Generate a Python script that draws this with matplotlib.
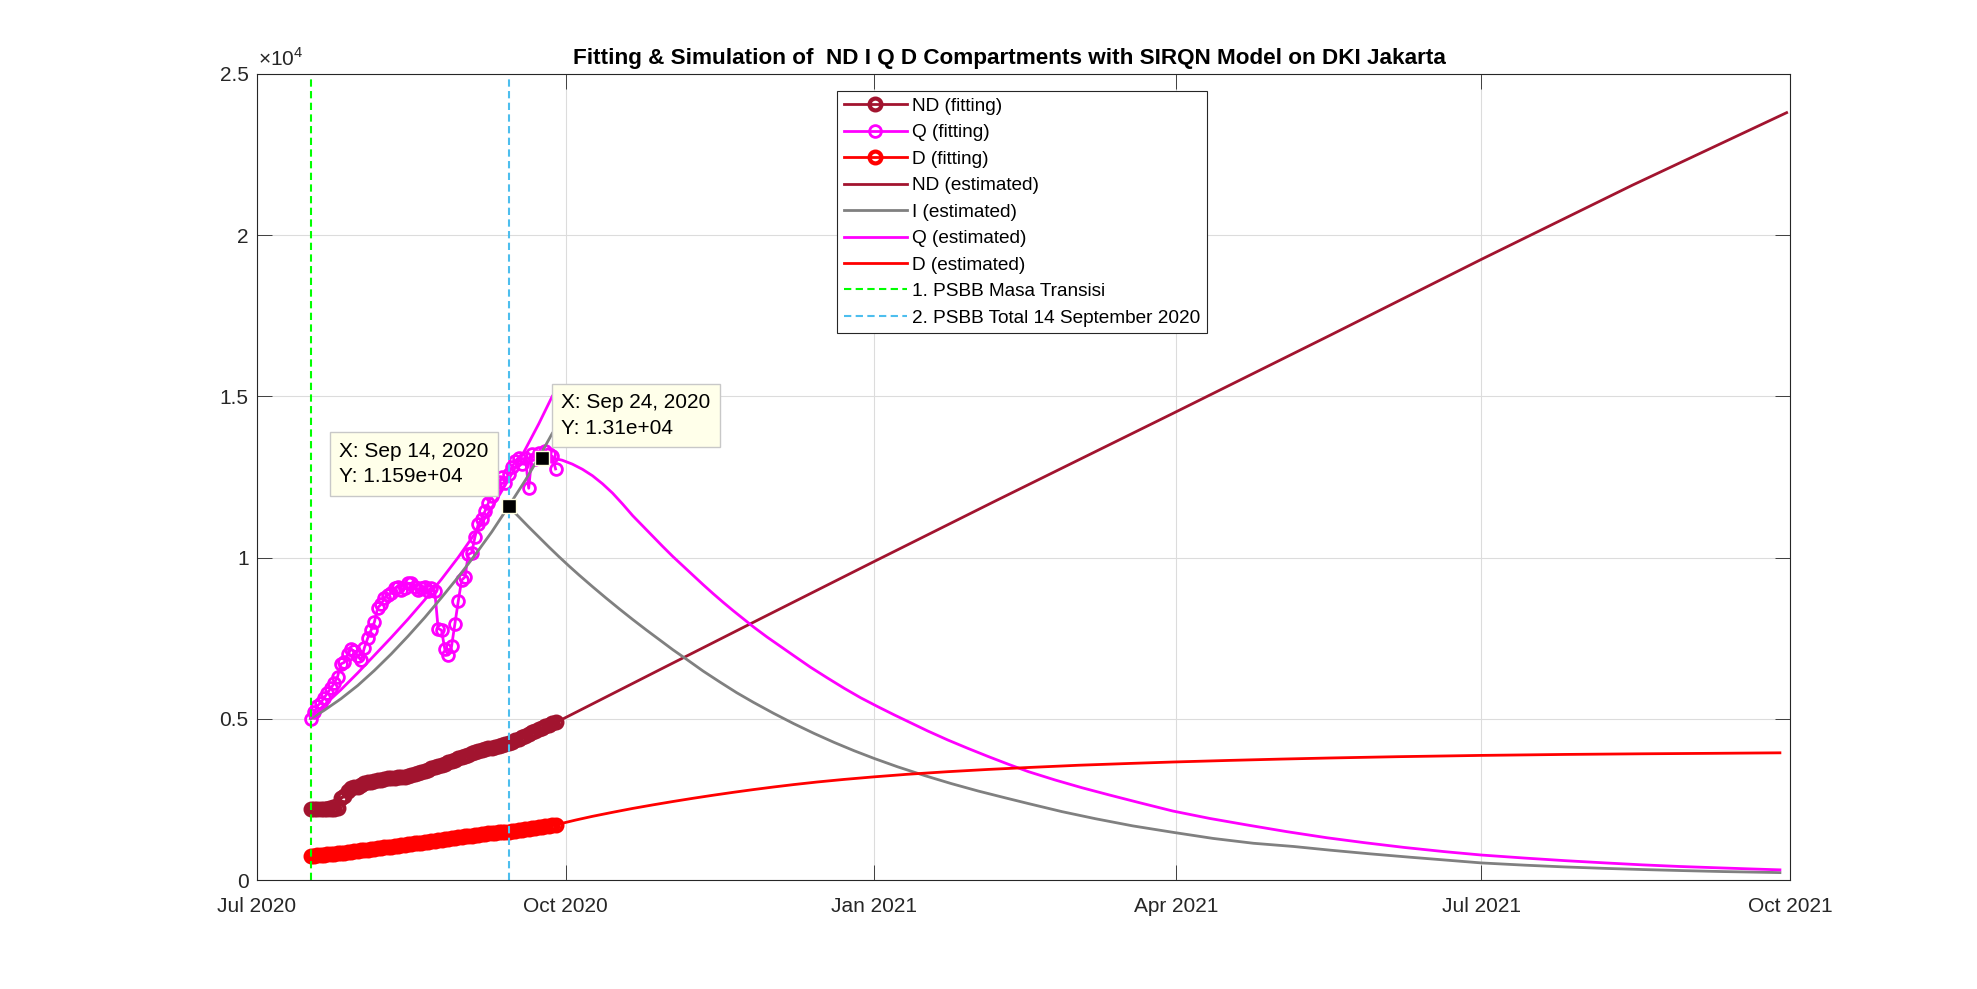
import numpy as np
import matplotlib
matplotlib.use('Agg')
import matplotlib.pyplot as plt
import matplotlib.dates as mdates
from matplotlib.ticker import FuncFormatter

plt.rcParams['font.family'] = ['Liberation Sans', 'DejaVu Sans']
plt.rcParams['mathtext.fontset'] = 'custom'
plt.rcParams['mathtext.rm'] = 'Liberation Sans'

# day offsets are counted from 1 Jul 2020
start = np.datetime64('2020-07-01')

# fitting data, one value per day from Jul 17 to Sep 28, 2020
fit_days = np.arange(16, 90)
nd_fit = [2200, 2200, 2200, 2200, 2200, 2210, 2210, 2210, 2220,
          2550, 2600, 2750, 2850, 2870, 2900, 2950, 3000, 3030, 3050,
          3070, 3100, 3110, 3130, 3150, 3160, 3170, 3180, 3190, 3200,
          3230, 3260, 3290, 3330, 3360, 3390, 3420, 3460, 3500, 3530,
          3570, 3610, 3650, 3690, 3730, 3770, 3810, 3850, 3890, 3930,
          3960, 3990, 4020, 4050, 4080, 4110, 4140, 4170, 4190, 4210,
          4240, 4280, 4330, 4380, 4430, 4480, 4530, 4580, 4630, 4680,
          4720, 4770, 4820, 4870, 4900]
q_fit = [5000, 5200, 5400, 5500, 5650, 5800, 5950, 6100, 6300, 6700,
         6750, 7000, 7150, 7100, 6950, 6820, 7200, 7500, 7750, 8000,
         8450, 8550, 8750, 8850, 8900, 9050, 9100, 9000, 9050, 9200,
         9200, 9100, 9000, 9050, 9100, 8950, 9050, 8950, 7800, 7750,
         7150, 6980, 7250, 7950, 8650, 9300, 9400, 10100, 10150, 10650,
         11050, 11200, 11450, 11700, 11900, 12200, 12350, 12500, 12300, 12600,
         12800, 13000, 13100, 12900, 13100, 12150, 13200, 13050, 13250, 13100,
         13300, 13200, 13150, 12750]
d_fit = [745, 755, 765, 775, 785, 795, 805, 815, 825, 835,
         845, 860, 875, 890, 905, 920, 930, 940, 955, 970,
         985, 1000, 1010, 1020, 1035, 1050, 1060, 1075, 1090, 1105,
         1120, 1135, 1150, 1160, 1175, 1190, 1200, 1215, 1230, 1245,
         1260, 1275, 1290, 1305, 1320, 1335, 1350, 1365, 1380, 1395,
         1410, 1420, 1435, 1450, 1460, 1470, 1480, 1490, 1495, 1500,
         1515, 1530, 1545, 1560, 1575, 1590, 1605, 1620, 1635, 1650,
         1665, 1680, 1695, 1710]

# estimated / simulated curves
nd_est_days = [16, 24, 30, 40, 50, 60, 70, 80, 89, 120, 150, 184, 220, 273, 320, 365, 410, 456]
nd_est = [2250, 2500, 2750, 3100, 3400, 3750, 4100, 4450, 4880, 6520, 8100, 9880,
          11750, 14470, 16900, 19250, 21550, 23800]

i_fit_days = [16, 20, 25, 30, 35, 40, 45, 50, 55, 60, 65, 70, 75, 80, 84, 88]
i_fit_est = [5000, 5260, 5620, 6030, 6500, 7010, 7560, 8140, 8760, 9400, 10080, 10800,
             11590, 12400, 13100, 13850]
i_sim_days = [75, 78, 81, 84, 87, 90, 93, 96, 100, 104, 108, 112, 116, 120, 124, 128, 133,
              138, 143, 148, 154, 160, 166, 172, 178, 184, 191, 199, 207, 215, 223, 230,
              240, 250, 261, 273, 285, 297, 309, 320, 332, 344, 356, 365, 378, 390, 402,
              413, 425, 437, 446, 454]
i_sim = [11590, 11270, 10950, 10640, 10330, 10030, 9740, 9460, 9100, 8750, 8410, 8080,
         7760, 7450, 7140, 6850, 6480, 6140, 5810, 5510, 5170, 4850, 4550, 4270, 4010,
         3770, 3510, 3240, 2990, 2760, 2550, 2370, 2120, 1900, 1680, 1480, 1290, 1140,
         1040, 925, 810, 705, 605, 530, 460, 405, 360, 325, 292, 262, 245, 230]

q_fit_days = [16, 20, 25, 30, 35, 40, 45, 50, 55, 60, 65, 70, 75, 80, 84, 88]
q_fit_est = [5050, 5420, 5900, 6420, 6970, 7520, 8090, 8690, 9330, 10010, 10750, 11550,
             12420, 13360, 14150, 15000]
q_sim_days = [85, 88, 91, 94, 97, 100, 103, 106, 109, 112, 115, 118, 121, 124, 127, 130,
              133, 136, 139, 142, 145, 148, 152, 156, 160, 165, 170, 175, 180, 185, 190,
              195, 200, 206, 212, 218, 224, 230, 238, 246, 254, 263, 273, 284, 295, 307,
              319, 330, 342, 354, 365, 378, 390, 402, 413, 424, 435, 445, 454]
q_sim = [13100, 13090, 13020, 12900, 12740, 12540, 12290, 12000, 11660, 11300, 10980,
         10660, 10340, 10030, 9740, 9450, 9160, 8880, 8610, 8350, 8100, 7850, 7540, 7250,
         6960, 6600, 6270, 5950, 5650, 5380, 5120, 4870, 4620, 4340, 4080, 3830, 3590,
         3360, 3100, 2860, 2640, 2400, 2140, 1910, 1710, 1500, 1310, 1160, 1010, 880, 775,
         680, 600, 530, 470, 420, 380, 345, 315]

d_est_days = [16, 30, 45, 60, 75, 89, 95, 100, 106, 112, 118, 124, 130, 136, 142, 148, 154,
              160, 167, 175, 184, 194, 206, 218, 230, 245, 260, 273, 290, 305, 320, 340,
              365, 390, 413, 435, 454]
d_est = [760, 900, 1080, 1300, 1500, 1710, 1860, 1975, 2100, 2220, 2330, 2435, 2535, 2630,
         2720, 2805, 2885, 2960, 3040, 3120, 3200, 3280, 3360, 3430, 3490, 3560, 3615,
         3660, 3710, 3750, 3785, 3825, 3865, 3895, 3915, 3930, 3945]

psbb_days = [16, 75]
psbb_labels = ['1. PSBB Masa Transisi', '2. PSBB Total 14 September 2020']

tips = [(75, 11590, 'X: Sep 14, 2020\nY: 1.159e+04'),
        (85, 13100, 'X: Sep 24, 2020\nY: 1.31e+04')]

c_nd = '#A2142F'
c_q = '#FF00FF'
c_d = '#FF0000'
c_i = '#808080'
c_txt = '#262626'


def to_dates(days):
    return start + np.array(days).astype('timedelta64[D]')


fig = plt.figure(figsize=(19.77, 9.89), dpi=100)
ax = fig.add_axes([0.13, 0.1102, 0.7754, 0.815])

fit_kw = dict(marker='o', lw=2, ms=8.5, mfc='none')
h1, = ax.plot(to_dates(fit_days), nd_fit, color=c_nd, mew=3, label='ND (fitting)', **fit_kw)
h2, = ax.plot(to_dates(fit_days), q_fit, color=c_q, mew=2, label='Q (fitting)', **fit_kw)
h3, = ax.plot(to_dates(fit_days), d_fit, color=c_d, mew=3, label='D (fitting)', **fit_kw)

h4, = ax.plot(to_dates(nd_est_days), nd_est, color=c_nd, lw=2, label='ND (estimated)')
h5, = ax.plot(to_dates(i_fit_days), i_fit_est, color=c_i, lw=2, label='I (estimated)')
ax.plot(to_dates(i_sim_days), i_sim, color=c_i, lw=2)
h6, = ax.plot(to_dates(q_fit_days), q_fit_est, color=c_q, lw=2, label='Q (estimated)')
ax.plot(to_dates(q_sim_days), q_sim, color=c_q, lw=2)
h7, = ax.plot(to_dates(d_est_days), d_est, color=c_d, lw=2, label='D (estimated)')

h8 = ax.axvline(to_dates([psbb_days[0]])[0], color='#00FF00', lw=1.5,
                ls=(0, (3.5, 2.1)), label=psbb_labels[0])
h9 = ax.axvline(to_dates([psbb_days[1]])[0], color='#4DBEEE', lw=1.5,
                ls=(0, (3.5, 2.1)), label=psbb_labels[1])

# data tips
for k, (day, val, txt) in enumerate(tips):
    xd = mdates.date2num(to_dates([day])[0])
    ax.plot(xd, val, 's', color='black', ms=9.5, mec='#FFFFE0', mew=1, zorder=6)
    if k == 0:
        off, ha = (-20, 20), 'right'
    else:
        off, ha = (19, 20), 'left'
    ax.annotate(txt, xy=(xd, val), xytext=off, textcoords='offset pixels',
                ha=ha, va='bottom', multialignment='left', fontsize=15, color='black',
                linespacing=1.45,
                bbox=dict(boxstyle='square,pad=0.45', fc='#FFFFEA', ec='#C8C8C8', lw=1),
                zorder=7)

ax.set_xlim(np.datetime64('2020-07-01'), np.datetime64('2021-10-01'))
ax.set_ylim(0, 25000)
ax.xaxis.set_major_locator(mdates.MonthLocator(bymonth=[1, 4, 7, 10]))
ax.xaxis.set_major_formatter(mdates.DateFormatter('%b %Y'))
ax.set_yticks([0, 5000, 10000, 15000, 20000, 25000])
ax.yaxis.set_major_formatter(FuncFormatter(lambda v, p: f'{v / 1e4:g}'))

ax.grid(True, color='#DCDCDC', lw=0.8)
ax.set_axisbelow(True)
ax.tick_params(direction='in', length=11, width=0.6, top=True, right=True,
               labelsize=15, colors=c_txt)
ax.tick_params(axis='x', pad=12)
ax.tick_params(axis='y', pad=6)
for s in ax.spines.values():
    s.set_color(c_txt)
    s.set_linewidth(0.8)

ax.annotate(r'$\times10^{4}$', xy=(0, 1), xycoords='axes fraction', xytext=(1, 4),
            textcoords='offset pixels', ha='left', va='bottom', fontsize=15, color=c_txt)

ax.set_title('Fitting & Simulation of  ND I Q D Compartments with SIRQN Model on DKI Jakarta',
             fontsize=16.2, fontweight='bold', pad=7, x=0.4906)

leg = ax.legend(handles=[h1, h2, h3, h4, h5, h6, h7, h8, h9], loc='upper left',
                bbox_to_anchor=(0.3783, 0.9789), borderaxespad=0, fontsize=13.7,
                numpoints=1, handlelength=3.35, handletextpad=0.27, labelspacing=0.48,
                borderpad=0.35, fancybox=False, framealpha=1, edgecolor=c_txt)
leg.get_frame().set_linewidth(0.8)
leg.set_zorder(10)

fig.savefig('out.png', dpi=100, facecolor='white')
